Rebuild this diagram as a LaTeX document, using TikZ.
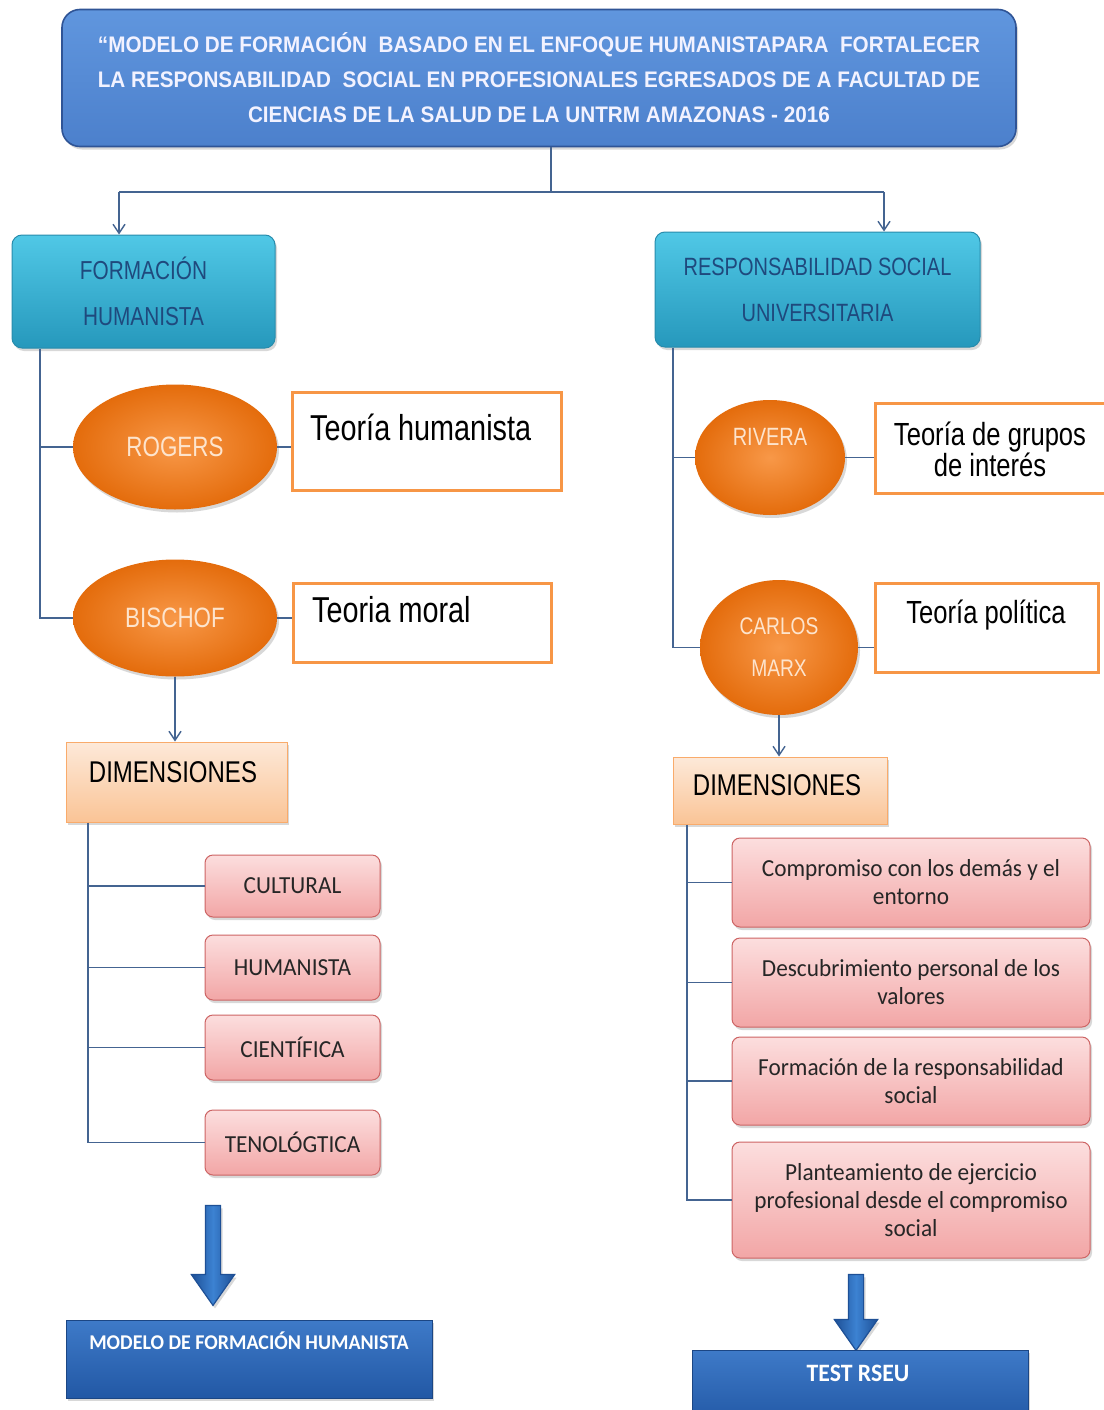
\documentclass[tikz,border=0pt]{standalone}
\usepackage{fontspec}
\setmainfont{Liberation Sans}
\newfontfamily\nar[FakeStretch=0.8]{Liberation Sans}
\newfontfamily\titlefont[FakeStretch=0.92]{Liberation Sans}
\newfontfamily\calfont[FakeStretch=0.95]{Carlito}
\usetikzlibrary{arrows.meta,shadows,shapes.geometric,shapes.arrows}
\definecolor{titletop}{RGB}{96,150,222}
\definecolor{titlebot}{RGB}{76,128,204}
\definecolor{titleborder}{RGB}{47,84,150}
\definecolor{cyantop}{RGB}{80,200,230}
\definecolor{cyanbot}{RGB}{38,152,188}
\definecolor{cyanborder}{RGB}{40,140,172}
\definecolor{cyantext}{RGB}{31,73,125}
\definecolor{orin}{RGB}{248,152,72}
\definecolor{orout}{RGB}{228,108,12}
\definecolor{ortext}{RGB}{253,228,205}
\definecolor{orborder}{RGB}{247,150,70}
\definecolor{dimtop}{RGB}{253,233,217}
\definecolor{dimbot}{RGB}{250,196,150}
\definecolor{pinktop}{RGB}{252,222,222}
\definecolor{pinkbot}{RGB}{242,166,166}
\definecolor{pinkborder}{RGB}{205,100,100}
\definecolor{bluetop}{RGB}{62,122,200}
\definecolor{bluebot}{RGB}{34,88,165}
\definecolor{conncol}{RGB}{68,100,145}
\definecolor{arrowfill}{RGB}{60,130,210}
\definecolor{arrowborder}{RGB}{30,80,150}
\tikzset{
  shad/.style={drop shadow={opacity=0.3,shadow xshift=2pt,shadow yshift=-3pt}},
  titlebox/.style={rectangle, rounded corners=18pt, draw=titleborder, line width=1.6pt,
    top color=titletop, bottom color=titlebot, text=white!95!blue, align=center, shad,
    font=\titlefont\bfseries\fontsize{22.5}{35}\selectfont},
  cyanbox/.style={rectangle, rounded corners=10pt, draw=cyanborder, line width=1pt,
    top color=cyantop, bottom color=cyanbot, text=cyantext, align=center, shad,
    font=\nar\fontsize{26}{46}\selectfont},
  ell/.style={ellipse, draw=none, inner color=orin, outer color=orout, text=ortext,
    align=center, shad, inner sep=0pt, font=\nar\fontsize{28}{42}\selectfont},
  theobox/.style={rectangle, draw=orborder, line width=3pt, fill=white, inner sep=0pt},
  theotext/.style={text=black, align=center, inner sep=0pt, font=\nar\fontsize{36}{36}\selectfont},
  dimbox/.style={rectangle, draw=orborder!80, line width=1pt, top color=dimtop, bottom color=dimbot,
    shad, inner sep=0pt},
  dimtext/.style={text=black, inner sep=0pt, font=\nar\fontsize{30}{30}\selectfont},
  pinkbox/.style={rectangle, rounded corners=8pt, draw=pinkborder, line width=1pt,
    top color=pinktop, bottom color=pinkbot, text=black!85, align=center, shad,
    font=\calfont\fontsize{24.5}{28}\selectfont},
  bluebox/.style={rectangle, draw=bluebot!80!black, line width=1pt, top color=bluetop, bottom color=bluebot,
    shad, inner sep=0pt},
  bluetext/.style={text=white, inner sep=0pt, font=\calfont\bfseries\fontsize{21}{21}\selectfont},
  conn/.style={draw=conncol, line width=1.8pt},
  arr/.style={conn, -{Straight Barb[length=9pt,width=12pt,line width=1.4pt]}},
  bigarrow/.style={single arrow, shape border rotate=270, draw=arrowborder, line width=1.2pt,
    left color=arrowborder, right color=arrowborder, middle color=arrowfill,
    inner sep=7pt, minimum width=42pt, single arrow head extend=14pt, single arrow tip angle=70, shad}
}
\begin{document}
\begin{tikzpicture}[x=1pt,y=-1pt]
\useasboundingbox[fill=white] (0,0) rectangle (1103,1410);

% title
\node[titlebox, minimum width=954pt, minimum height=137pt] (title) at (539,78)
 {\textquotedblleft MODELO DE FORMACIÓN \ BASADO EN EL ENFOQUE HUMANISTAPARA \ FORTALECER\\
  LA RESPONSABILIDAD \ SOCIAL EN PROFESIONALES EGRESADOS DE A FACULTAD DE\\
  CIENCIAS DE LA SALUD DE LA UNTRM AMAZONAS - 2016};

% level 2
\node[cyanbox, minimum width=263pt, minimum height=113pt] (fh) at (143.5,291.5) {FORMACIÓN\\HUMANISTA};
\node[cyanbox, minimum width=325pt, minimum height=115pt, font=\nar\fontsize{25}{46}\selectfont] (rsu) at (817.5,289.5) {RESPONSABILIDAD SOCIAL\\UNIVERSITARIA};

\coordinate (tj) at (551,192);
\coordinate (lj) at (119,192);
\coordinate (rj) at (884,192);
\draw[conn] (title.south -| tj) -- (tj);
\draw[arr] (lj) -- (fh.north -| lj);
\draw[conn] (lj) -- (rj);
\draw[arr] (rj) -- (rsu.north -| rj);

% left: authors
\node[ell, minimum width=204pt, minimum height=125pt] (rog) at (175,447) {ROGERS};
\node[ell, minimum width=204pt, minimum height=117pt] (bis) at (175,618) {BISCHOF};
\node[theobox, minimum width=269pt, minimum height=98pt] (th) at (426.5,441) {};
\node[theotext, anchor=base west] (tht) at (310,440) {Teoría humanista};
\node[theobox, minimum width=258pt, minimum height=79pt] (tm) at (422,622.5) {};
\node[theotext, anchor=base west] (tmt) at (312,622) {Teoria moral};

\coordinate (lt) at (40,348);
\draw[conn] (fh.south -| lt) |- (bis.west);
\draw[conn] (lt |- rog.west) -- (rog.west);
\draw[conn] (rog.east) -- (rog.east -| th.west);
\draw[conn] (bis.east) -- (bis.east -| tm.west);

% left dimensions
\node[dimbox, minimum width=221pt, minimum height=80pt] (dl) at (176.5,782) {};
\node[dimtext, anchor=base] (dlt) at (173,782) {DIMENSIONES};
\draw[arr] (bis.south) -- (bis.south |- dl.north);

\node[pinkbox, minimum width=175pt, minimum height=62pt] (c1) at (292.5,886) {CULTURAL};
\node[pinkbox, minimum width=175pt, minimum height=65pt] (c2) at (292.5,967.5) {HUMANISTA};
\node[pinkbox, minimum width=175pt, minimum height=65pt] (c3) at (292.5,1047.5) {CIENTÍFICA};
\node[pinkbox, minimum width=175pt, minimum height=65pt] (c4) at (292.5,1142.5) {TENOLÓGTICA};
\coordinate (ldt) at (88,822);
\draw[conn] (dl.south -| ldt) |- (c4.west);
\draw[conn] (ldt |- c1.west) -- (c1.west);
\draw[conn] (ldt |- c2.west) -- (c2.west);
\draw[conn] (ldt |- c3.west) -- (c3.west);

\node[bigarrow, minimum height=100pt] (a1) at (213,1250) {};
\node[bluebox, minimum width=366pt, minimum height=78pt] (mfh) at (249,1359) {};
\node[bluetext, anchor=base] (mfht) at (249,1349) {MODELO DE FORMACIÓN HUMANISTA};

% right: authors
\node[ell, minimum width=150pt, minimum height=115pt,
  label={[text=ortext, font=\nar\fontsize{25}{25}\selectfont, yshift=21pt]center:RIVERA}] (riv) at (770,457.5) {};
\node[ell, minimum width=158pt, minimum height=135pt, font=\nar\fontsize{24}{42}\selectfont] (cm) at (779,647.5) {CARLOS\\MARX};
\node[theobox, minimum width=230pt, minimum height=90pt] (tg) at (990,448) {};
\node[theotext, font=\nar\fontsize{32}{31}\selectfont] (tgt) at (990,449) {Teoría de grupos\\de interés};
\node[theobox, minimum width=223pt, minimum height=89pt] (tp) at (986.5,627.5) {};
\node[theotext, anchor=base, font=\nar\fontsize{32}{32}\selectfont] (tpt) at (986,623) {Teoría política};

\coordinate (rt) at (673,347);
\draw[conn] (rsu.south -| rt) |- (cm.west);
\draw[conn] (rt |- riv.west) -- (riv.west);
\draw[conn] (riv.east) -- (riv.east -| tg.west);
\draw[conn] (cm.east) -- (cm.east -| tp.west);

% right dimensions
\node[dimbox, minimum width=214pt, minimum height=67pt] (dr) at (780,790.5) {};
\node[dimtext, anchor=base] (drt) at (777,795) {DIMENSIONES};
\draw[arr] (cm.south) -- (cm.south |- dr.north);

\node[pinkbox, minimum width=358pt, minimum height=89pt] (r1) at (911,882.5) {Compromiso con los demás y el\\entorno};
\node[pinkbox, minimum width=358pt, minimum height=89pt] (r2) at (911,982.5) {Descubrimiento personal de los\\valores};
\node[pinkbox, minimum width=358pt, minimum height=88pt] (r3) at (911,1081) {Formación de la responsabilidad\\social};
\node[pinkbox, minimum width=358pt, minimum height=116pt] (r4) at (911,1200) {Planteamiento de ejercicio\\profesional desde el compromiso\\social};
\coordinate (rdt) at (687,824);
\draw[conn] (dr.south -| rdt) |- (r4.west);
\draw[conn] (rdt |- r1.west) -- (r1.west);
\draw[conn] (rdt |- r2.west) -- (r2.west);
\draw[conn] (rdt |- r3.west) -- (r3.west);

\node[bigarrow, minimum height=76pt] (a2) at (856,1307) {};
\node[bluebox, minimum width=336pt, minimum height=74pt] (test) at (860,1387) {};
\node[bluetext, anchor=base, font=\calfont\bfseries\fontsize{25}{25}\selectfont] (testt) at (858,1381) {TEST RSEU};
\end{tikzpicture}
\end{document}
